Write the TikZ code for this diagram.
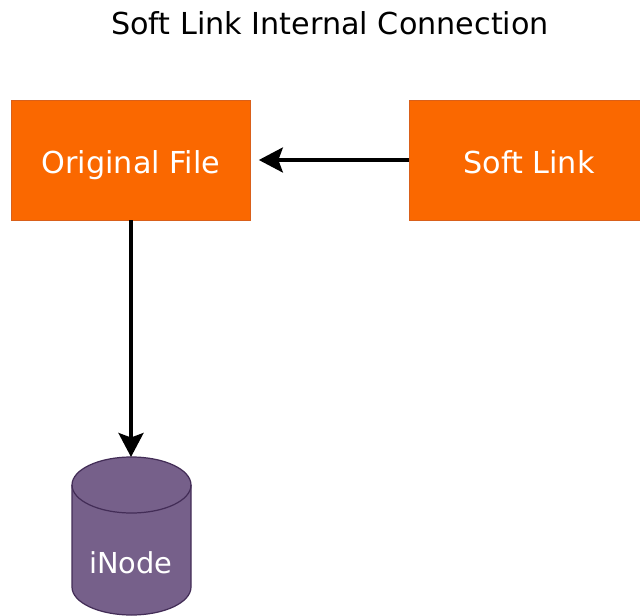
\documentclass[tikz,border=0pt]{standalone}
\usepackage{xcolor}
\usepackage{fontspec}
\setmainfont{DejaVu Sans}
\usetikzlibrary{positioning, arrows.meta}
\definecolor{fileorange}{HTML}{FA6800}
\definecolor{fileedge}{HTML}{D9601A}
\definecolor{nodepurple}{HTML}{76608A}
\definecolor{nodeedge}{HTML}{432D57}
\tikzset{
  bigtext/.style={font=\fontsize{17.2}{20}\selectfont, text height=0.64cm, text depth=0.1cm},
  filebox/.style={bigtext, draw=fileedge, fill=fileorange, text=white, minimum width=4.78cm, minimum height=2.4cm},
  store/.style={draw=nodeedge, fill=nodepurple, line width=0.7pt},
  link/.style={-{Stealth[length=0.48cm, width=0.5cm, inset=0.09cm]}, line width=1.9pt}
}
\begin{document}
\begin{tikzpicture}
  \useasboundingbox (0,0) rectangle (12.8,12.3);

  % Titulo
  \node[bigtext, text=black] (title) at (6.6,11.88) {Soft Link Internal Connection};

  % Caixas
  \node[filebox] (original) at (2.62,9.1) {Original File};
  \node[filebox] (soft) at (10.58,9.1) {Soft Link};

  % Cilindro
  \coordinate (inodetop) at (2.62,3.16);
  \draw[store] (1.44,2.6) arc[start angle=180, end angle=0, x radius=1.19, y radius=0.56]
    -- (3.82,0.56) arc[start angle=360, end angle=180, x radius=1.19, y radius=0.56] -- cycle;
  \draw[nodeedge, line width=0.7pt] (1.44,2.6) arc[start angle=180, end angle=360, x radius=1.19, y radius=0.56];
  \node[bigtext, text=white, font=\fontsize{16.4}{20}\selectfont] (inode) at (2.62,1.1) {iNode};

  % Setas
  \draw[link, shorten >=0.16cm] (soft) -- (original);
  \draw[link] (original) -- (inodetop);
\end{tikzpicture}
\end{document}
